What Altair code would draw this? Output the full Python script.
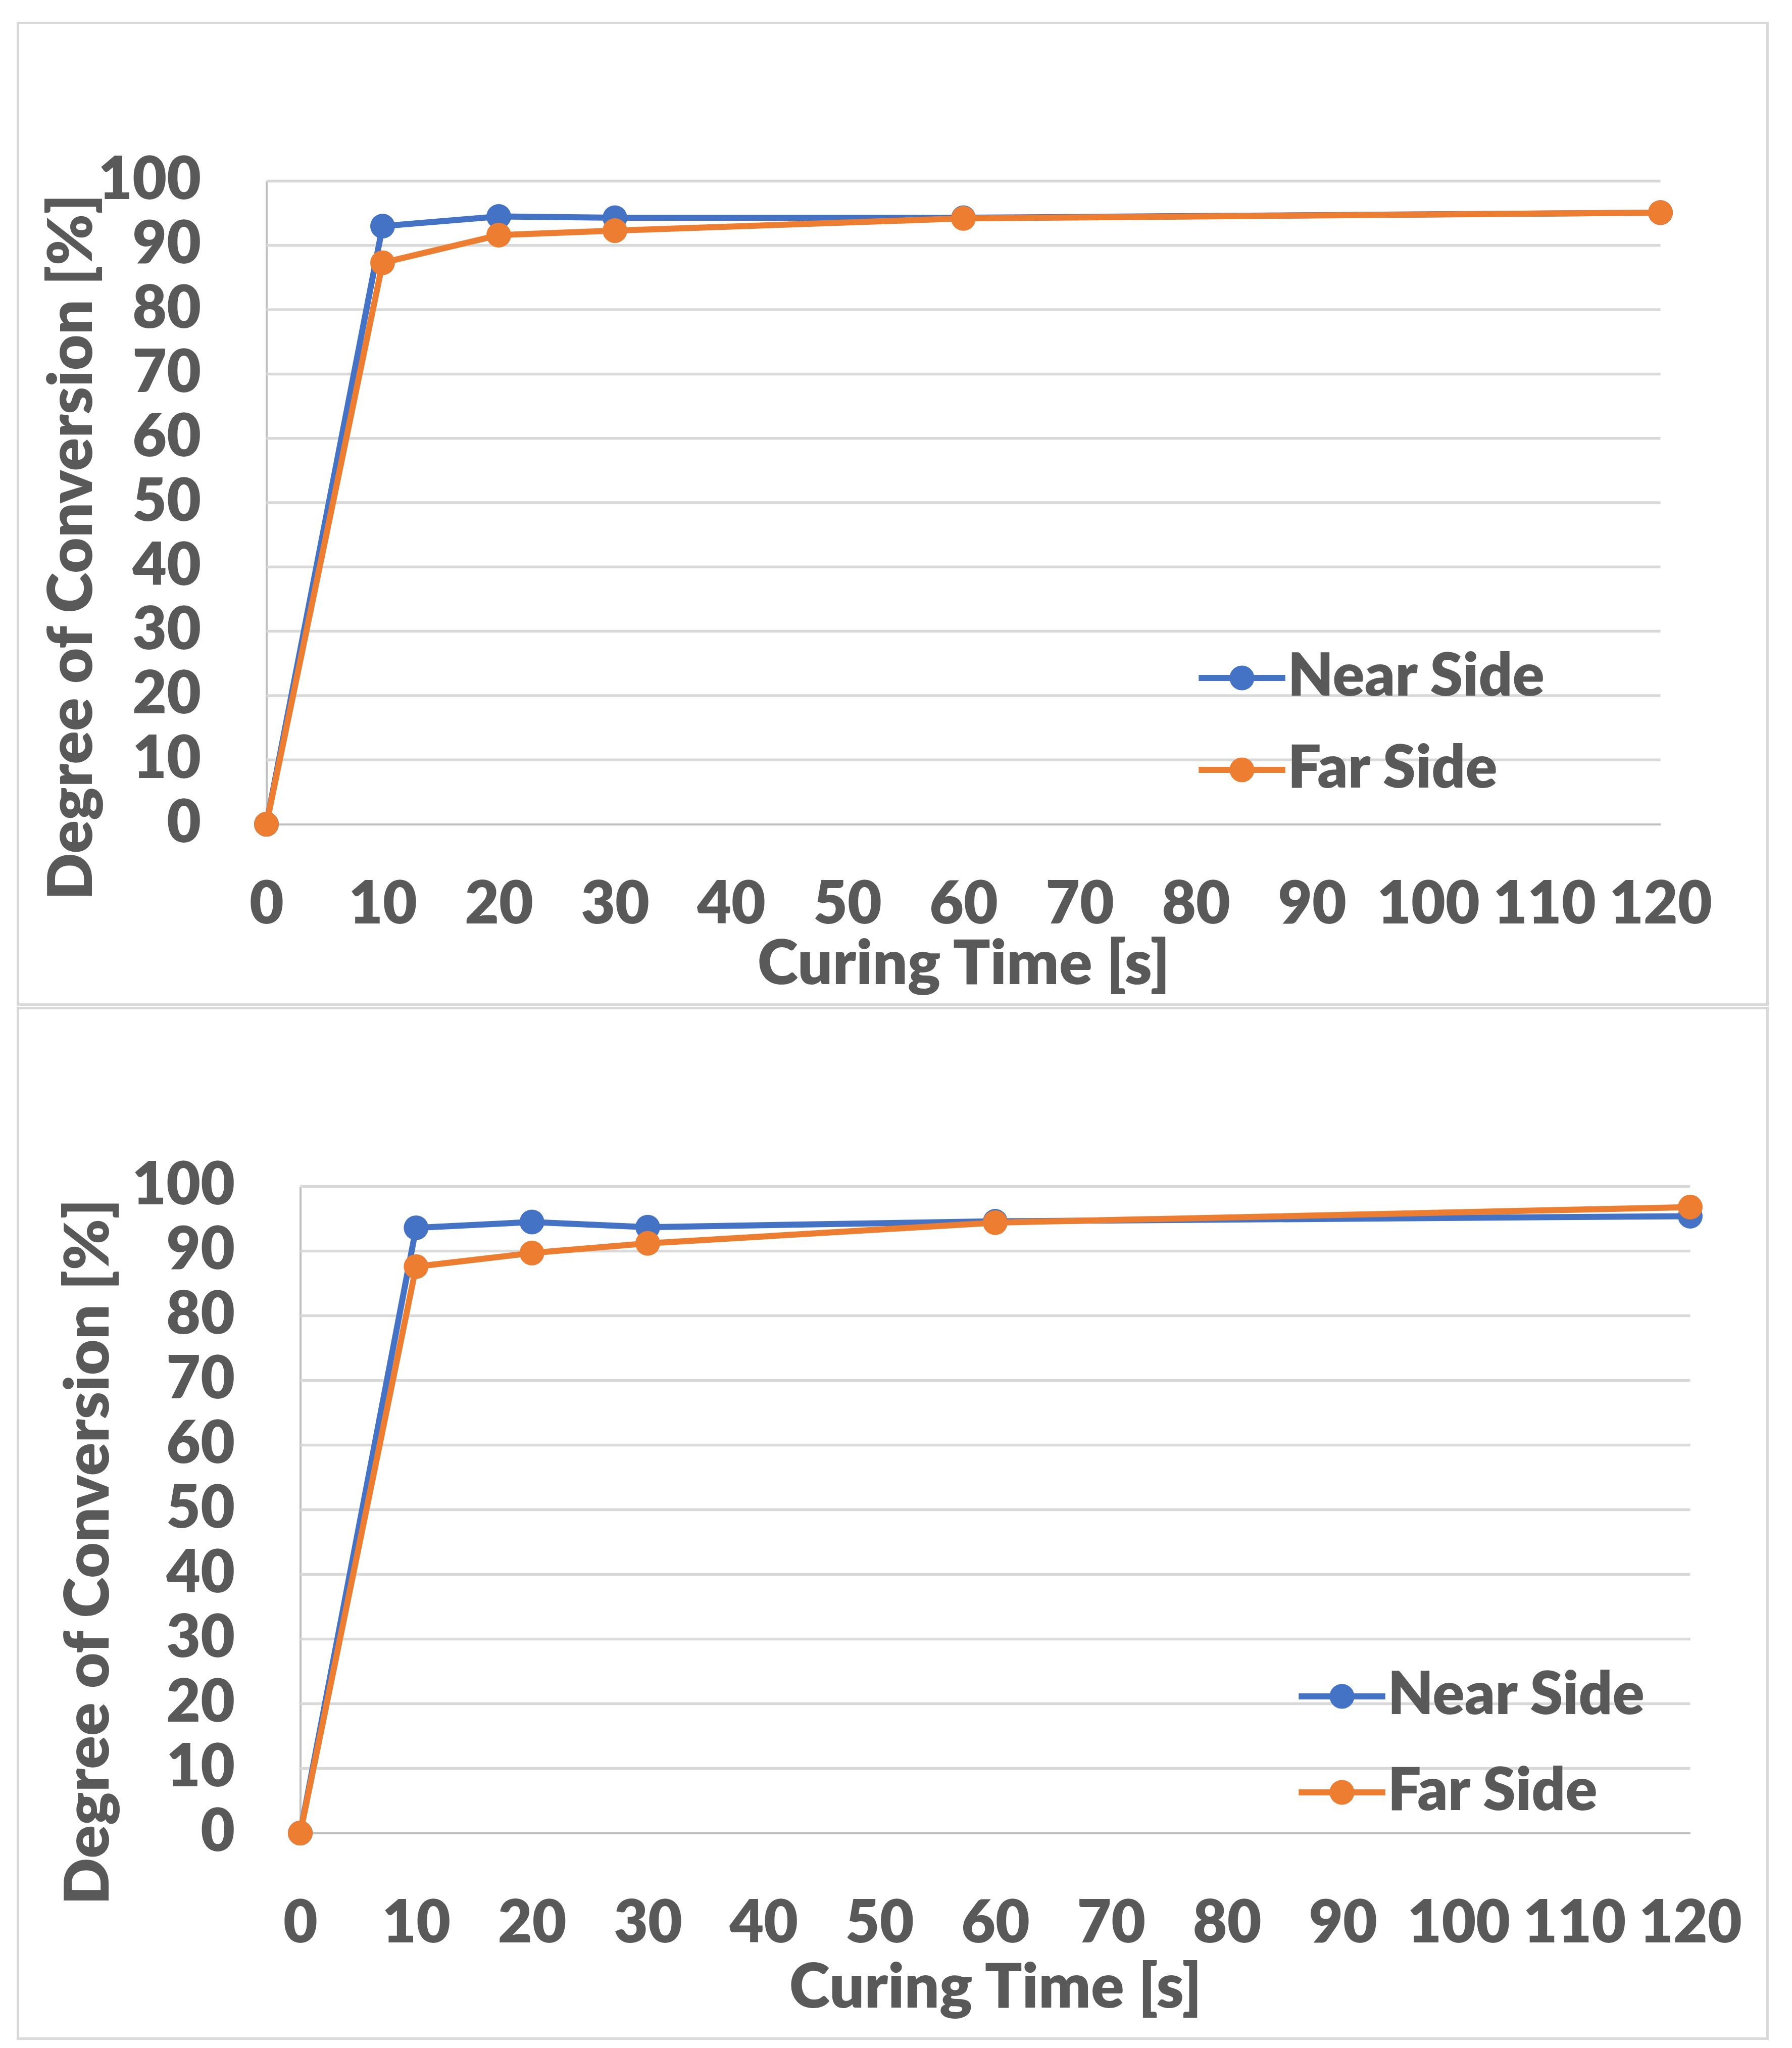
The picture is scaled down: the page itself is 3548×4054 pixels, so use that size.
import altair as alt
import pandas as pd

# ---------------- data ----------------
time_s = [0, 10, 20, 30, 60, 120]
series_names = ["Near Side", "Far Side"]
top_near = [0, 93.0, 94.5, 94.3, 94.3, 95.1]
top_far = [0, 87.3, 91.6, 92.3, 94.2, 95.1]
bottom_near = [0, 93.6, 94.5, 93.7, 94.6, 95.4]
bottom_far = [0, 87.6, 89.7, 91.2, 94.4, 96.8]
x_ticks = [0, 10, 20, 30, 40, 50, 60, 70, 80, 90, 100, 110, 120]
y_ticks = [0, 10, 20, 30, 40, 50, 60, 70, 80, 90, 100]
x_domain = [0, 120]
y_domain = [0, 100]
x_title = "Curing Time [s]"
y_title = "Degree of Conversion [%]"

# ---------------- style ----------------
BLUE = "#4472C4"
ORANGE = "#ED7D31"
TEXT = "#595959"
GRID = "#D9D9D9"
AXIS = "#BFBFBF"
FONT = "Lato"
FS = 117
WEIGHT = 800

# whole drawing area (both framed panels), in px
W, H = 3464, 3990

# legend symbol: a short line with a dot in the middle (same winding -> union)
LEGEND_PATH = ("M-3.5,-0.25L3.5,-0.25L3.5,0.25L-3.5,0.25Z"
               "M-1,0A1,1,0,1,1,1,0A1,1,0,1,1,-1,0Z")


def frame(x0, x1, y0, y1):
    return alt.Chart(alt.Data(values=[{"f": 1}])).mark_rect(
        filled=False, color=GRID, strokeWidth=5
    ).encode(x=alt.value(x0), x2=alt.value(x1), y=alt.value(y0), y2=alt.value(y1))


def panel(near, far, xr, yr, ytx, yty, xty, xlp, lx, ly, lrow):
    df = pd.DataFrame({
        "time": time_s + time_s,
        "doc": near + far,
        "series": [series_names[0]] * len(time_s) + [series_names[1]] * len(time_s),
    })
    grid_df = pd.DataFrame({"doc": y_ticks[1:], "time": x_domain[0], "time_end": x_domain[1]})

    xs = alt.Scale(domain=x_domain, range=list(xr), nice=False, zero=False)
    ys = alt.Scale(domain=y_domain, range=list(yr), nice=False)
    x_axis = alt.Axis(values=x_ticks, title=x_title, orient="bottom", offset=-(H - yr[0]),
                      grid=False, ticks=False, tickSize=0, labelPadding=xlp,
                      labelOverlap=False, labelFlush=False, labelLimit=1000, format="d",
                      titleY=xty, titleBaseline="alphabetic", titleLimit=3000)
    y_axis = alt.Axis(values=y_ticks, title=y_title, orient="left", offset=-xr[0],
                      grid=False, ticks=False, tickSize=0, labelPadding=130,
                      labelOverlap=False, labelFlush=False, labelLimit=1000, format="d",
                      titleX=ytx, titleY=yr[1] + yty, titleAngle=270,
                      titleBaseline="alphabetic", titleLimit=3000)
    x = alt.X("time:Q", scale=xs, axis=x_axis)
    y = alt.Y("doc:Q", scale=ys, axis=y_axis)
    color = alt.Color(
        "series:N",
        scale=alt.Scale(domain=series_names, range=[BLUE, ORANGE]),
        legend=alt.Legend(title=None, orient="none", legendX=lx, legendY=ly,
                          symbolType=LEGEND_PATH, symbolSize=2400, symbolStrokeWidth=0,
                          symbolOpacity=1, labelOffset=32, rowPadding=lrow, padding=0,
                          labelFont=FONT, labelFontSize=FS, labelFontWeight=WEIGHT,
                          labelColor=TEXT, labelLimit=2000),
    )
    gridlines = alt.Chart(grid_df).mark_rule(color=GRID, strokeWidth=5.5).encode(
        x=x, x2="time_end:Q", y=y
    )
    layers = [gridlines]
    base = alt.Chart(df)
    for name, col in zip(series_names, [BLUE, ORANGE]):
        sub = base.transform_filter(alt.datum.series == name)
        layers.append(sub.mark_line(color=col, strokeWidth=12).encode(x=x, y=y))
        layers.append(sub.mark_point(filled=True, size=2400, opacity=1).encode(x=x, y=y, color=color))
    return alt.layer(*layers)


top = panel(top_near, top_far, xr=(492, 3252), yr=(1586, 313),
            ytx=-346, yty=724, xty=316, xlp=104,
            lx=492 + 1873, ly=313 + 925, lrow=64)
bottom = panel(bottom_near, bottom_far, xr=(559, 3311), yr=(3583, 2303),
               ytx=-380, yty=723, xty=345, xlp=124,
               lx=559 + 2004, ly=2303 + 951, lrow=72)

chart = alt.layer(
    frame(0, W, 0, 1943),
    frame(0, W, 1950, H),
    top,
    bottom,
).resolve_scale(
    x="independent", y="independent", color="independent"
).resolve_axis(
    x="independent", y="independent"
).resolve_legend(
    color="independent"
).properties(
    width=W, height=H,
    padding={"left": 24.5, "top": 34.5, "right": 10, "bottom": 5},
    background="white",
).configure_view(strokeWidth=0).configure_axis(
    labelFont=FONT, labelFontSize=FS, labelFontWeight=WEIGHT, labelColor=TEXT,
    titleFont=FONT, titleFontSize=122, titleFontWeight=WEIGHT, titleColor=TEXT,
    domainColor=AXIS, domainWidth=4,
)

chart.save("out.html", embed_options={"renderer": "svg", "actions": False})
